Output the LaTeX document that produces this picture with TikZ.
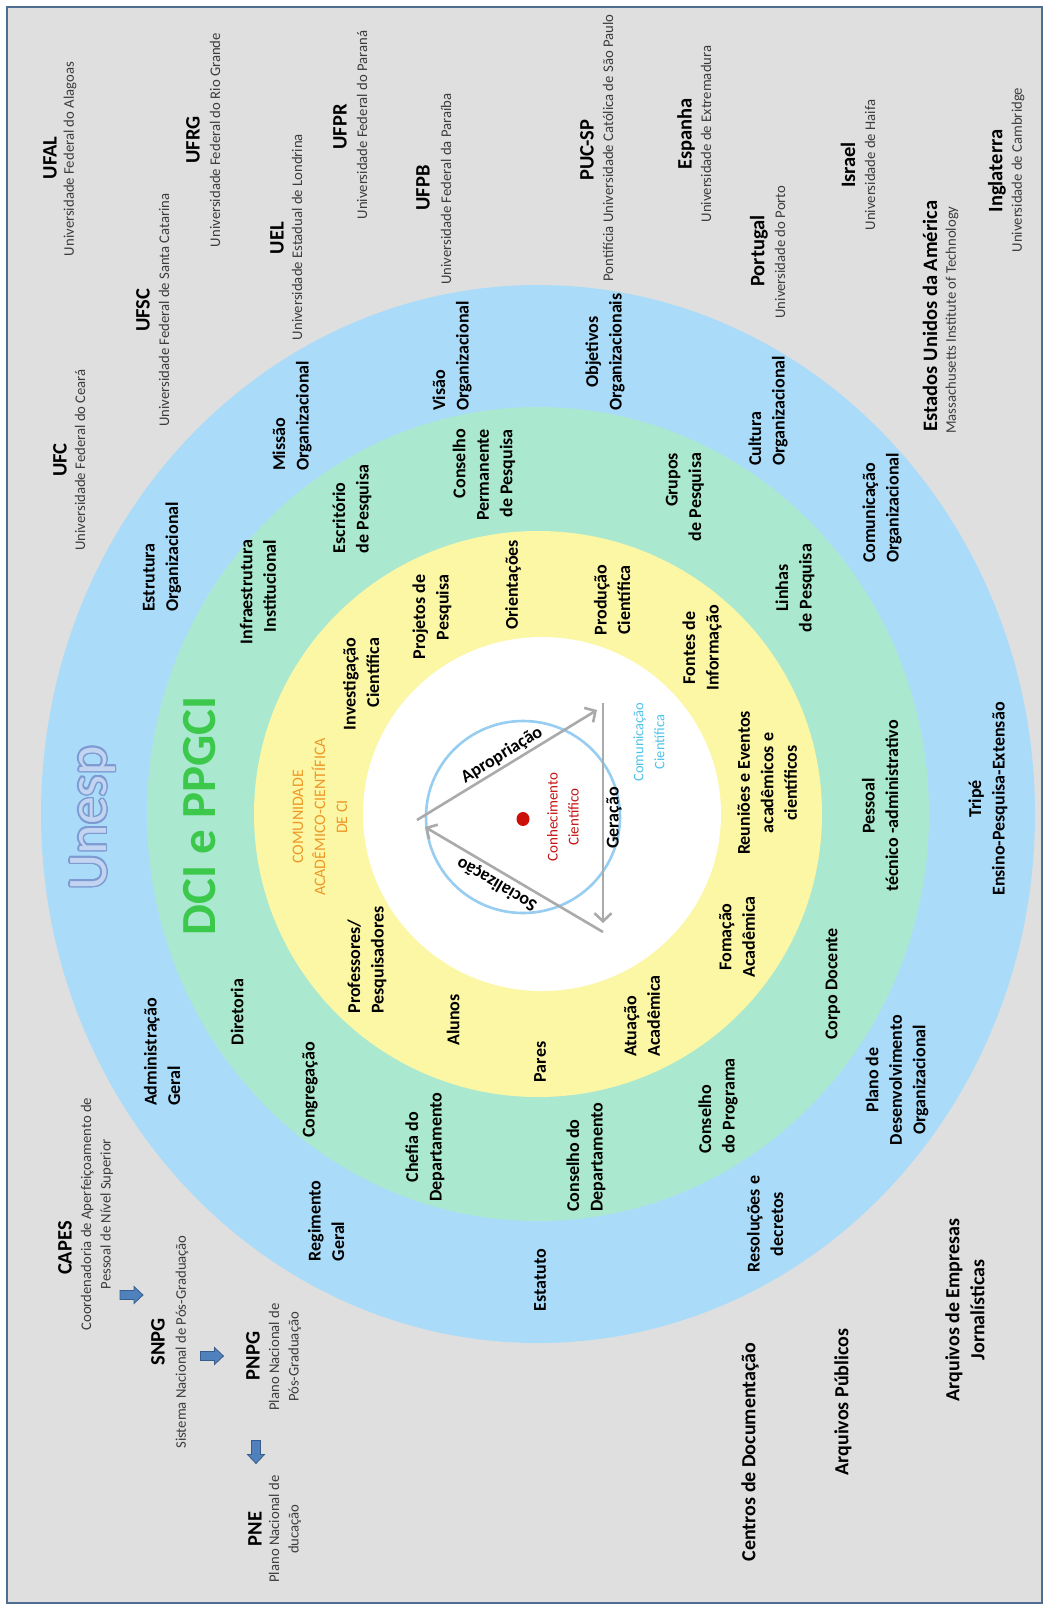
\documentclass[tikz,border=0pt]{standalone}
\usepackage{fontspec}
\setmainfont{Carlito}
\usetikzlibrary{arrows.meta}

\definecolor{bgframe}{RGB}{223,223,223}
\definecolor{framecol}{RGB}{79,108,145}
\definecolor{ringblue}{RGB}{170,220,250}
\definecolor{ringgreen}{RGB}{170,232,208}
\definecolor{ringyellow}{RGB}{252,247,165}
\definecolor{arrowgray}{RGB}{170,170,170}
\definecolor{commblue}{RGB}{150,205,240}
\definecolor{commtext}{RGB}{80,195,235}
\definecolor{knowred}{RGB}{200,20,20}
\definecolor{dotred}{RGB}{205,15,10}
\definecolor{comorange}{RGB}{238,152,40}
\definecolor{dcigreen}{RGB}{60,200,75}
\definecolor{unespfill}{RGB}{195,212,240}
\definecolor{unespedge}{RGB}{125,155,210}
\definecolor{subgray}{RGB}{60,60,60}
\definecolor{blockfill}{RGB}{79,129,189}
\definecolor{blockedge}{RGB}{56,93,138}

\tikzset{
  lbl/.style={rotate=90, font=\fontsize{18}{23.5}\selectfont\bfseries, align=center, inner sep=0pt},
  lbll/.style={lbl, align=left},
  lblr/.style={lbl, align=right},
  uname/.style={rotate=90, font=\fontsize{20.5}{24}\selectfont\bfseries, inner sep=0pt},
  usub/.style={rotate=90, font=\fontsize{14.7}{19.5}\selectfont, text=subgray, align=center, inner sep=0pt},
  outer/.style={rotate=90, font=\fontsize{20}{25}\selectfont\bfseries, align=center, inner sep=0pt},
  blockarr/.pic={
    \draw[fill=blockfill, draw=blockedge, line width=0.8pt]
      (-11.5,-4.5) -- (2.5,-4.5) -- (2.5,-8.5) -- (11.5,0) -- (2.5,8.5) -- (2.5,4.5) -- (-11.5,4.5) -- cycle;
  },
  cyclearrow/.style={draw=arrowgray, line width=2.6pt,
    -{Straight Barb[length=8pt,width=17pt]}},
  unesptext/.style={rotate=90, font=\fontsize{56}{60}\selectfont, inner sep=0pt}
}

\begin{document}
\begin{tikzpicture}[x=1pt,y=-1pt]
% page and frame
\useasboundingbox (0,0) rectangle (1045,1609);
\fill[white] (0,0) rectangle (1045,1609);
\draw[framecol, line width=1.6pt, fill=bgframe] (7,7) rectangle (1042,1603);

% concentric rings
\fill[ringblue]   (538,814) ellipse [x radius=497pt, y radius=529pt];
\fill[ringgreen]  (538,814) ellipse [x radius=391pt, y radius=407pt];
\fill[ringyellow] (538,814) ellipse [x radius=284pt, y radius=283pt];
\fill[white]      (542,814) ellipse [x radius=179pt, y radius=177pt];

% titles
\foreach \a in {0,22.5,...,337.5}
  \node[unesptext, text=unespedge, shift={(\a:1.5pt)}] at (93,818) {Unesp};
\node[unesptext, text=unespfill] (unesp) at (93,818) {Unesp};
\node[rotate=90, font=\fontsize{49}{52}\selectfont\bfseries, text=dcigreen, inner sep=0pt] (dci) at (200,816) {DCI e PPGCI};
\node[rotate=90, font=\fontsize{16}{22}\selectfont, text=comorange, align=center, inner sep=0pt] (comunidade) at (320,817)
  {COMUNIDADE\\ACADÊMICO-CIENTÍFICA\\DE CI};

% inner cycle
\draw[commblue, line width=2.6pt] (523,817) ellipse [x radius=97pt, y radius=96pt];
\fill[dotred] (523,819) ellipse [x radius=6.5pt, y radius=7pt];
\coordinate (apS) at (417,820);
\coordinate (apE) at (597,710);
\coordinate (geS) at (603,703);
\coordinate (geE) at (603,923);
\coordinate (soS) at (603,932);
\coordinate (soE) at (425,827);
\draw[cyclearrow] (apS) -- (apE);
\draw[cyclearrow] (geS) -- (geE);
\draw[cyclearrow] (soS) -- (soE);
\node[rotate=31.5, font=\fontsize{18}{20}\selectfont\bfseries, inner sep=0pt] (aprop) at (502,755) {Apropriação};
\node[rotate=149.5, font=\fontsize{18}{20}\selectfont\bfseries, inner sep=0pt] (social) at (497,884) {Socialização};
\node[rotate=90, font=\fontsize{18}{20}\selectfont\bfseries, inner sep=0pt] (geracao) at (614,818) {Geração};
\node[rotate=90, font=\fontsize{15}{21}\selectfont, text=knowred, align=center, inner sep=0pt] (conhec) at (563,817)
  {Conhecimento\\Científico};
\node[rotate=90, font=\fontsize{14.5}{21}\selectfont, text=commtext, align=center, inner sep=0pt] (comcient) at (649,742)
  {Comunicação\\Científica};

% yellow ring
\node[lblr] (investig) at (361,684) {Investigação\\Científica};
\node[lblr] (projetos) at (432,617) {Projetos de\\Pesquisa};
\node[lbl]  (orient)   at (513,585) {Orientações};
\node[lbl]  (producao) at (612,600) {Produção\\Científica};
\node[lbl]  (fontes)   at (702,648) {Fontes de\\Informação};
\node[lbl]  (reunioes) at (767,783) {Reuniões e Eventos\\acadêmicos e\\científicos};
\node[lbl]  (fomacao)  at (737,937) {Fomação\\Acadêmica};
\node[lbll] (atuacao)  at (642,1016) {Atuação\\Acadêmica};
\node[lbl]  (pares)    at (540,1062) {Pares};
\node[lbl]  (alunos)   at (453,1020) {Alunos};
\node[lbll] (profs)    at (367,960) {Professores/\\Pesquisadores};

% green ring
\node[lblr] (infra)     at (258,592) {Infraestrutura\\Institucional};
\node[lbll] (escrit)    at (352,509) {Escritório\\de Pesquisa};
\node[lblr] (conselhop) at (484,475) {Conselho\\Permanente\\de Pesquisa};
\node[lblr] (grupos)    at (685,497) {Grupos\\de Pesquisa};
\node[lbl]  (linhas)    at (795,588) {Linhas\\de Pesquisa};
\node[lbl]  (pessoal)   at (880,806) {Pessoal\\técnico -administrativo};
\node[lbl]  (corpo)     at (833,984) {Corpo Docente};
\node[lbll] (conprog)   at (718,1106) {Conselho\\do Programa};
\node[lbll] (condep)    at (586,1157) {Conselho do\\Departamento};
\node[lbl]  (chefia)    at (425,1147) {Chefia do\\Departamento};
\node[lbl]  (congreg)   at (310,1090) {Congregação};
\node[lbl]  (diretoria) at (237,1012) {Diretoria};

% blue ring
\node[lbll] (estrut)   at (162,557) {Estrutura\\Organizacional};
\node[lbll] (missao)   at (292,416) {Missão\\Organizacional};
\node[lbll] (visao)    at (452,356) {Visão\\Organizacional};
\node[lbl]  (objet)    at (605,352) {Objetivos\\Organizacionais};
\node[lbll] (cultura)  at (768,411) {Cultura\\Organizacional};
\node[lbll] (comorg)   at (882,508) {Comunicação\\Organizacional};
\node[lbl]  (tripe)    at (988,799) {Tripé\\Ensino-Pesquisa-Extensão};
\node[lbl]  (pdo)      at (897,1080) {Plano de\\Desenvolvimento\\Organizacional};
\node[lbl]  (resol)    at (765,1224) {Resoluções e\\decretos};
\node[lbl]  (estatuto) at (540,1280) {Estatuto};
\node[lbll] (regim)    at (326,1221) {Regimento\\Geral};
\node[lbll] (admin)    at (162,1052) {Administração\\Geral};

% universities and countries
\node[uname] (ufal) at (50,158) {UFAL};
\node[usub] (ufals) at (70,159) {Universidade Federal do Alagoas};
\node[uname] (ufc) at (60,460) {UFC};
\node[usub] (ufcs) at (80,460) {Universidade Federal do Ceará};
\node[uname] (ufsc) at (143,310) {UFSC};
\node[usub] (ufscs) at (164,310) {Universidade Federal de Santa Catarina};
\node[uname] (ufrg) at (193,140) {UFRG};
\node[usub] (ufrgs) at (215,140) {Universidade Federal do Rio Grande};
\node[uname] (uel) at (277,238) {UEL};
\node[usub] (uels) at (297,237) {Universidade Estadual de Londrina};
\node[uname] (ufpr) at (340,127) {UFPR};
\node[usub] (ufprs) at (362,125) {Universidade Federal do Paraná};
\node[uname] (ufpb) at (423,188) {UFPB};
\node[usub] (ufpbs) at (446,189) {Universidade Federal da Paraíba};
\node[uname] (pucsp) at (587,150) {PUC-SP};
\node[usub] (pucsps) at (608,148) {Pontifícia Universidade Católica de São Paulo};
\node[uname] (espanha) at (686,134) {Espanha};
\node[usub] (espanhas) at (706,134) {Universidade de Extremadura};
\node[uname] (portugal) at (759,251) {Portugal};
\node[usub] (portugals) at (780,252) {Universidade do Porto};
\node[uname] (israel) at (848,165) {Israel};
\node[usub] (israels) at (870,165) {Universidade de Haifa};
\node[uname] (eua) at (930,316) {Estados Unidos da América};
\node[usub] (euas) at (952,320) {Massachusetts Institute of Technology};
\node[uname] (inglat) at (997,171) {Inglaterra};
\node[usub] (inglats) at (1018,170) {Universidade de Cambridge};

% national agencies and plans
\node[uname] (capes) at (65,1248) {CAPES};
\node[usub] (capess) at (97,1214) {Coordenadoria de Aperfeiçoamento de\\Pessoal de Nível Superior};
\pic (arrA) at (131.5,1295) {blockarr};
\node[uname] (snpg) at (158,1342) {SNPG};
\node[usub] (snpgs) at (182,1342) {Sistema Nacional de Pós-Graduação};
\pic (arrB) at (212,1356) {blockarr};
\node[uname] (pnpg) at (253,1356) {PNPG};
\node[usub] (pnpgs) at (285,1357) {Plano Nacional de\\Pós-Graduação};
\pic[rotate=-90] (arrC) at (256,1452) {blockarr};
\node[uname] (pne) at (255,1529) {PNE};
\node[usub] (pnes) at (285,1529) {Plano Nacional de\\ducação};

% archives
\node[outer] (centros) at (750,1452) {Centros de Documentação};
\node[outer] (arqpub) at (843,1402) {Arquivos Públicos};
\node[outer] (arqemp) at (965,1310) {Arquivos de Empresas\\Jornalísticas};
\end{tikzpicture}
\end{document}
